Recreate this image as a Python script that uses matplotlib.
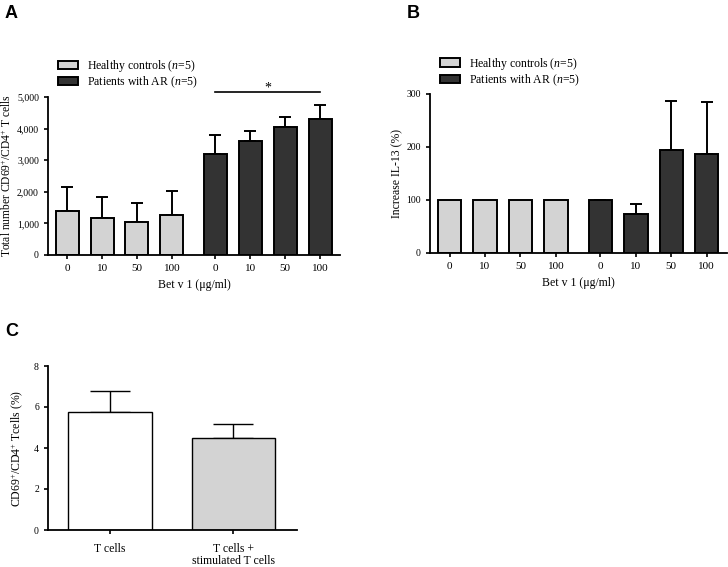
import numpy as np
import matplotlib
matplotlib.use('Agg')
import matplotlib.pyplot as plt

plt.rcParams['font.family'] = 'Liberation Serif'
plt.rcParams['mathtext.fontset'] = 'custom'
plt.rcParams['mathtext.rm'] = 'Liberation Serif'
plt.rcParams['mathtext.it'] = 'Liberation Serif:italic'
plt.rcParams['axes.linewidth'] = 1.3

# data
doses = ['0', '10', '50', '100']
hc_counts = [1400, 1170, 1060, 1270]
hc_counts_err = [750, 650, 590, 750]
ar_counts = [3200, 3600, 4050, 4300]
ar_counts_err = [600, 320, 330, 450]

hc_il13 = [100, 100, 100, 100]
ar_il13 = [100, 73, 195, 187]
ar_il13_err = [0, 19, 92, 98]

c_labels = ['T cells', 'T cells +\nstimulated T cells']
c_values = [5.75, 4.5]
c_err = [1.03, 0.65]

LIGHT = '#d3d3d3'
DARK = '#333333'
W, H = 728, 567

fig = plt.figure(figsize=(W / 100, H / 100), dpi=100)


def ax_px(left, right, top, bottom):
    return fig.add_axes([left / W, 1 - bottom / H, (right - left) / W, (bottom - top) / H])


def style(ax):
    for s in ('top', 'right'):
        ax.spines[s].set_visible(False)
    ax.tick_params(direction='out', length=3, width=1.2, labelsize=7)
    ax.tick_params(axis='x', labelsize=8)


hc_pos = np.arange(4)
ar_pos = np.arange(4) + 4.25
pos = np.concatenate([hc_pos, ar_pos])


def grouped(ax, hc, hc_err, ar, ar_err, leg_y):
    z = [0] * 4
    ax.bar(hc_pos, hc, 0.66, color=LIGHT, edgecolor='black', lw=1.4,
           label='Healthy controls ($n$=5)', zorder=2)
    ax.bar(ar_pos, ar, 0.66, color=DARK, edgecolor='black', lw=1.4,
           label='Patients with AR ($n$=5)', zorder=2)
    if hc_err is not None:
        ax.errorbar(hc_pos, hc, yerr=[z, hc_err], fmt='none', ecolor='black',
                    elinewidth=1.4, capsize=4.5, capthick=1.4, zorder=1)
    ax.errorbar(ar_pos, ar, yerr=[z, ar_err], fmt='none', ecolor='black',
                elinewidth=1.4, capsize=4.5, capthick=1.4, zorder=1)
    ax.set_xticks(pos)
    ax.set_xticklabels(doses * 2)
    ax.set_xlim(-0.55, 7.82)
    ax.set_xlabel('Bet v 1 (\u03bcg/ml)', fontsize=8.5, labelpad=4)
    ax.legend(loc='lower left', bbox_to_anchor=(0.035, leg_y), frameon=False,
              fontsize=8.5, handlelength=1.7, handleheight=0.7,
              labelspacing=0.05, borderpad=0, borderaxespad=0, handletextpad=0.7)


# panel A
axA = ax_px(48, 340, 97, 255)
style(axA)
grouped(axA, hc_counts, hc_counts_err, ar_counts, ar_counts_err, 1.045)
axA.set_ylim(0, 5000)
axA.set_yticks(range(0, 5001, 1000))
axA.set_yticklabels(['0', '1,000', '2,000', '3,000', '4,000', '5,000'])
axA.set_ylabel('Total number CD69$^{+}$/CD4$^{+}$ T cells', fontsize=8.3, labelpad=2)
axA.plot([ar_pos[0], ar_pos[-1]], [5150, 5150], color='black', lw=1.2, clip_on=False)
axA.text(ar_pos[1:3].mean(), 5180, '*', ha='center', va='baseline', fontsize=10)

# panel B
axB = ax_px(430, 727, 94, 253)
style(axB)
grouped(axB, hc_il13, None, ar_il13, ar_il13_err, 1.04)
axB.set_ylim(0, 300)
axB.set_yticks([0, 100, 200, 300])
axB.set_ylabel('Increase IL-13 (%)', fontsize=8.5, labelpad=2)

# panel C
axC = ax_px(48, 297, 366, 530)
style(axC)
cpos = np.arange(2)
axC.bar(cpos, c_values, 0.675, color=['white', LIGHT], edgecolor='black', lw=1.0, zorder=2)
axC.errorbar(cpos, c_values, yerr=[[0, 0], c_err], fmt='none', ecolor='black',
             elinewidth=1.0, capsize=14.5, capthick=1.0, zorder=1)
axC.set_xlim(-0.504, 1.52)
axC.set_ylim(0, 8)
axC.set_yticks([0, 2, 4, 6, 8])
axC.set_xticks(cpos)
axC.set_xticklabels(c_labels, fontsize=8.5, linespacing=1.1)
axC.tick_params(axis='x', pad=6)
axC.set_ylabel('CD69$^{+}$/CD4$^{+}$ Tcells (%)', fontsize=8.5, labelpad=6)

# panel letters
for x, y, s in [(5, 5, 'A'), (407, 5, 'B'), (5, 323, 'C')]:
    fig.text(x / W, 1 - y / H, s, fontsize=13, fontweight='bold',
             family='Liberation Sans', ha='left', va='top')

fig.savefig('out.png', dpi=100)
